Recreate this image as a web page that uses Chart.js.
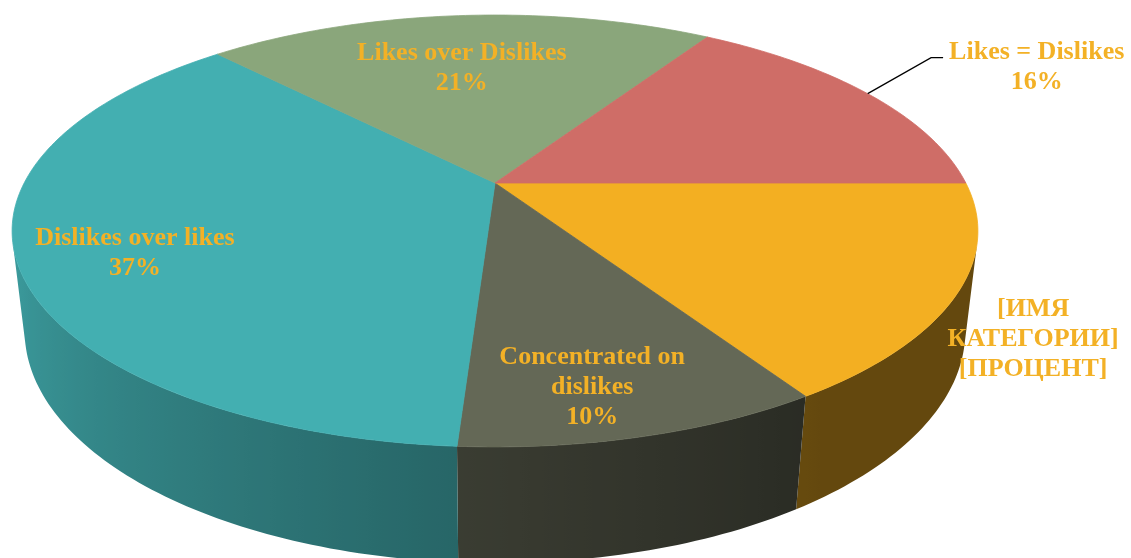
<!DOCTYPE html>
<html>
<head>
<meta charset="utf-8">
<script src="https://cdn.jsdelivr.net/npm/chart.js@4.4.1/dist/chart.umd.min.js"></script>
<style>
  html, body { margin: 0; padding: 0; background: #fff; }
  #pie { display: block; }
</style>
</head>
<body>
<canvas id="pie" width="1131" height="558"></canvas>
<script>
// slices, clockwise from 3 o'clock
var categories = ['[ИМЯ\nКАТЕГОРИИ]', 'Concentrated on\ndislikes', 'Dislikes over likes', 'Likes over Dislikes', 'Likes = Dislikes'];
var shares = [16, 10, 37, 21, 16];
var sliceColors = ['#F3AF22', '#646856', '#43AFB1', '#8AA67B', '#CF6D67'];
// first slice still shows the template placeholder instead of its value
var valuePlaceholder = ['[ПРОЦЕНТ]', null, null, null, null];

var labelColor = '#F3B126';
var labelFont = 'bold 26px "Liberation Serif", "Times New Roman", serif';
var lineGap = 30;

// perspective camera for the tilted disc (units of the pie radius)
var CAM = { dist: 4.05, sinP: 0.436, cosP: 0.9, focal: 10.42, depth: 0.236 };

// where each label sits: radius on the top face plus a small nudge
var labelSpots = [
  { r: 1.15, dx: -3, dy: 24 },
  { r: 0.8, dx: -16, dy: 10 },
  { r: 0.76, dx: -3, dy: 12 },
  { r: 0.68, dx: -7, dy: 4 },
  { r: 1.0, dx: 169, dy: -29, leader: true }
];

function project(arc, ang, r, h) {
  var s = r * Math.cos(ang), t = r * Math.sin(ang);
  var z = CAM.dist - t * CAM.cosP + h * CAM.sinP;
  var f = CAM.focal * arc.outerRadius / z;
  return { x: arc.x + f * s, y: arc.y + f * (t * CAM.sinP + h * CAM.cosP) };
}

function shade(hex, k) {
  var n = parseInt(hex.slice(1), 16);
  var r = Math.round(((n >> 16) & 255) * k);
  var g = Math.round(((n >> 8) & 255) * k);
  var b = Math.round((n & 255) * k);
  return 'rgb(' + r + ',' + g + ',' + b + ')';
}

// side is lit from the front-left
function wallLight(ang) {
  var deg = ang * 180 / Math.PI;
  var u = Math.min(1, Math.max(0, (deg - 55) / 110));
  return 0.41 + 0.49 * u;
}

var pie3d = {
  id: 'pie3d',
  beforeDatasetsDraw: function (chart) {
    var ctx = chart.ctx;
    var arcs = chart.getDatasetMeta(0).data;
    var visMin = Math.asin(1 / (CAM.dist * CAM.cosP));
    var visMax = Math.PI - visMin;
    var deg = Math.PI / 180;
    var h = CAM.depth;

    ctx.save();
    // outer wall, only the part that faces the camera
    arcs.forEach(function (arc, i) {
      var a0 = Math.max(arc.startAngle, visMin);
      var a1 = Math.min(arc.endAngle, visMax);
      if (a1 <= a0) return;
      var n = Math.max(2, Math.ceil((a1 - a0) / deg));
      var j, a, p;
      ctx.beginPath();
      for (j = 0; j <= n; j++) {
        a = a0 + (a1 - a0) * j / n;
        p = project(arc, a, 1, 0);
        if (j === 0) ctx.moveTo(p.x, p.y); else ctx.lineTo(p.x, p.y);
      }
      for (j = n; j >= 0; j--) {
        a = a0 + (a1 - a0) * j / n;
        p = project(arc, a, 1, h);
        ctx.lineTo(p.x, p.y);
      }
      ctx.closePath();

      var xa = project(arc, a0, 1, 0).x, xb = project(arc, a1, 1, 0).x;
      var grad = ctx.createLinearGradient(xa, 0, xb, 0);
      for (j = 0; j <= n; j++) {
        a = a0 + (a1 - a0) * j / n;
        var off = (project(arc, a, 1, 0).x - xa) / (xb - xa);
        grad.addColorStop(Math.min(1, Math.max(0, off)), shade(sliceColors[i], wallLight(a)));
      }
      ctx.fillStyle = grad;
      ctx.fill();
    });

    // top face
    arcs.forEach(function (arc, i) {
      var c = project(arc, 0, 0, 0);
      ctx.beginPath();
      ctx.moveTo(c.x, c.y);
      var n = Math.max(2, Math.ceil((arc.endAngle - arc.startAngle) / deg));
      for (var j = 0; j <= n; j++) {
        var a = arc.startAngle + (arc.endAngle - arc.startAngle) * j / n;
        var p = project(arc, a, 1, 0);
        ctx.lineTo(p.x, p.y);
      }
      ctx.closePath();
      ctx.fillStyle = sliceColors[i];
      ctx.fill();
      ctx.strokeStyle = sliceColors[i];
      ctx.lineWidth = 0.8;
      ctx.stroke();
    });
    ctx.restore();
    return false;
  },
  afterDraw: function (chart) {
    var ctx = chart.ctx;
    var arcs = chart.getDatasetMeta(0).data;
    var total = shares.reduce(function (s, v) { return s + v; }, 0);

    ctx.save();
    ctx.font = labelFont;
    ctx.textAlign = 'center';
    ctx.textBaseline = 'alphabetic';
    arcs.forEach(function (arc, i) {
      var spot = labelSpots[i];
      var mid = (arc.startAngle + arc.endAngle) / 2;
      var anchor = project(arc, mid, spot.r, 0);
      var cx = anchor.x + spot.dx, cy = anchor.y + spot.dy;
      var lines = categories[i].split('\n');
      lines.push(valuePlaceholder[i] || Math.round(shares[i] / total * 100) + '%');

      if (spot.leader) {
        var w = 0;
        lines.forEach(function (l) { w = Math.max(w, ctx.measureText(l).width); });
        var left = cx - w / 2;
        ctx.beginPath();
        ctx.moveTo(anchor.x, anchor.y);
        ctx.lineTo(left - 18, cy - 7);
        ctx.lineTo(left - 6, cy - 7);
        ctx.strokeStyle = '#000';
        ctx.lineWidth = 1.3;
        ctx.stroke();
      }

      ctx.fillStyle = labelColor;
      lines.forEach(function (l, k) {
        var y = cy + (k - (lines.length - 1) / 2) * lineGap + 9;
        ctx.fillText(l, cx, y);
      });
    });
    ctx.restore();
  }
};

var pieChart = new Chart(document.getElementById('pie'), {
  type: 'pie',
  data: {
    labels: categories,
    datasets: [{
      data: shares,
      backgroundColor: sliceColors,
      borderWidth: 0
    }]
  },
  options: {
    responsive: false,
    animation: false,
    rotation: 90,
    layout: { padding: { left: 0, top: 0, right: 141, bottom: 192 } },
    plugins: {
      legend: { display: false },
      tooltip: { enabled: false }
    }
  },
  plugins: [pie3d]
});
</script>
</body>
</html>
